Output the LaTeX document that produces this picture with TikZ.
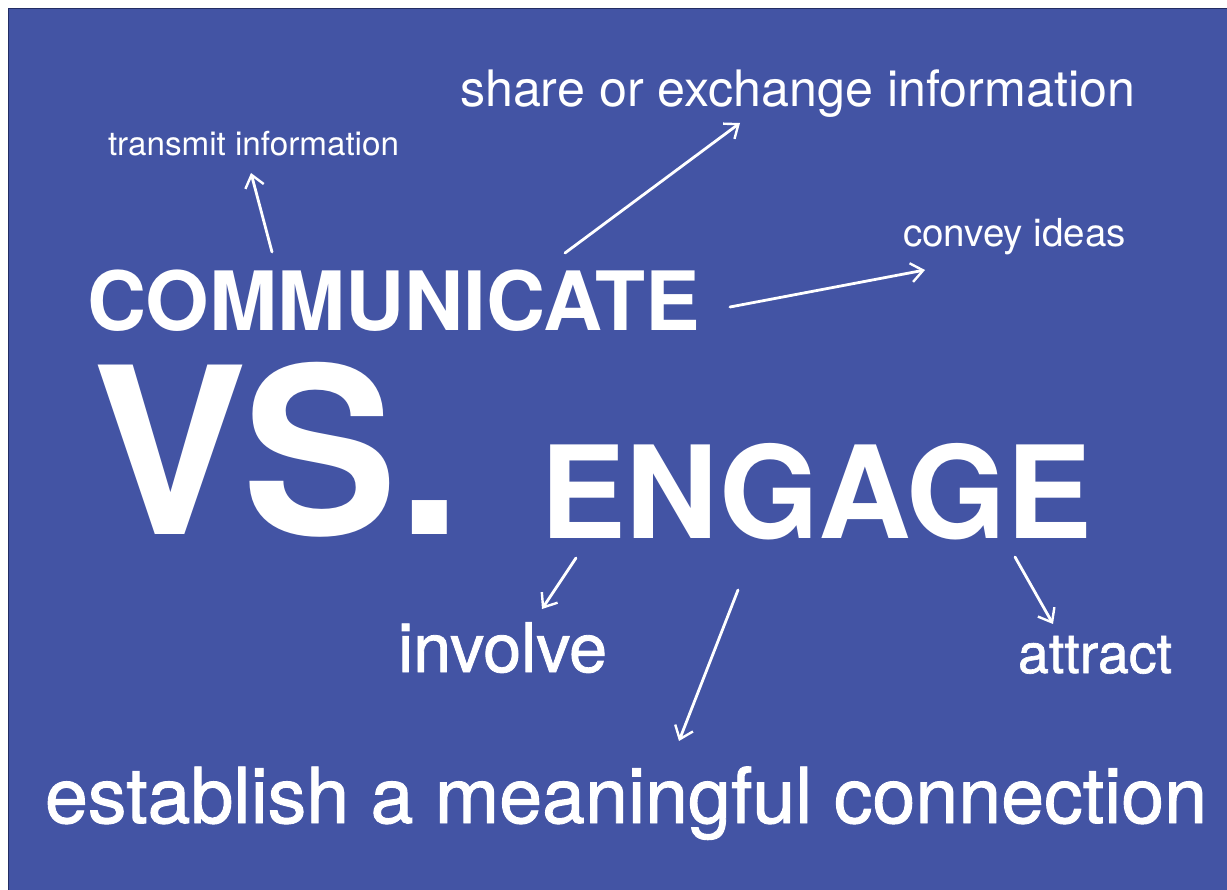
\documentclass[tikz,border=0pt]{standalone}
\usepackage{fontspec}
\setmainfont{TeX Gyre Heros}
\newfontfamily\medfont[FakeBold=1.2]{TeX Gyre Heros}
\usepackage{graphicx}
\usetikzlibrary{arrows.meta}
\definecolor{bgblue}{RGB}{67,84,164}
\definecolor{bgedge}{RGB}{35,45,100}
\newcommand\fitw[2]{\resizebox{#1}{!}{#2}}
\begin{document}
\begin{tikzpicture}[x=1pt,y=-1pt,
  lbl/.style={anchor=base west,inner sep=0pt,outer sep=0pt,text=white,font=\fontsize{40}{40}\selectfont},
  mlbl/.style={lbl,font=\fontsize{40}{40}\medfont},
  blbl/.style={lbl,font=\fontsize{40}{40}\selectfont\bfseries},
  arr/.style={draw=white,line width=2.8pt,line cap=round,-{Straight Barb[length=12pt,width=19pt,line width=2.4pt]}}]
\useasboundingbox (0,0) rectangle (1227,890);
\fill[white] (0,0) rectangle (1227,890);
\draw[fill=bgblue,draw=bgedge,line width=1.5pt] (8.5,8.5) rectangle (1230,893);
% texts
\node[lbl] (transmit) at (108,156) {\fitw{291pt}{transmit information}};
\node[lbl] (share) at (460,107) {\fitw{675pt}{share or exchange information}};
\node[lbl] (convey) at (903,247) {\fitw{223pt}{convey ideas}};
\node[blbl] (comm) at (87,331) {\fitw{613pt}{COMMUNICATE}};
\node[blbl] (vs) at (92,535) {\fitw{370pt}{VS.}};
\node[blbl] (engage) at (540,539) {\fitw{552pt}{ENGAGE}};
\node[mlbl] (involve) at (398,672) {\fitw{209pt}{involve}};
\node[mlbl] (attract) at (1018,673) {\fitw{154pt}{attract}};
\node[mlbl] (establish) at (45,823) {\fitw{1162pt}{establish a meaningful connection}};
% arrow ends
\coordinate (a1s) at (272,252); \coordinate (a1e) at (251,173);
\coordinate (a2s) at (565,253); \coordinate (a2e) at (740,123);
\coordinate (a3s) at (730,307); \coordinate (a3e) at (925,270);
\coordinate (a4s) at (576,558); \coordinate (a4e) at (542,609);
\coordinate (a5s) at (738,590); \coordinate (a5e) at (679,741);
\coordinate (a6s) at (1015,557); \coordinate (a6e) at (1053,624);
\draw[arr] (a1s) -- (a1e);
\draw[arr] (a2s) -- (a2e);
\draw[arr] (a3s) -- (a3e);
\draw[arr] (a4s) -- (a4e);
\draw[arr] (a5s) -- (a5e);
\draw[arr] (a6s) -- (a6e);
\end{tikzpicture}
\end{document}
